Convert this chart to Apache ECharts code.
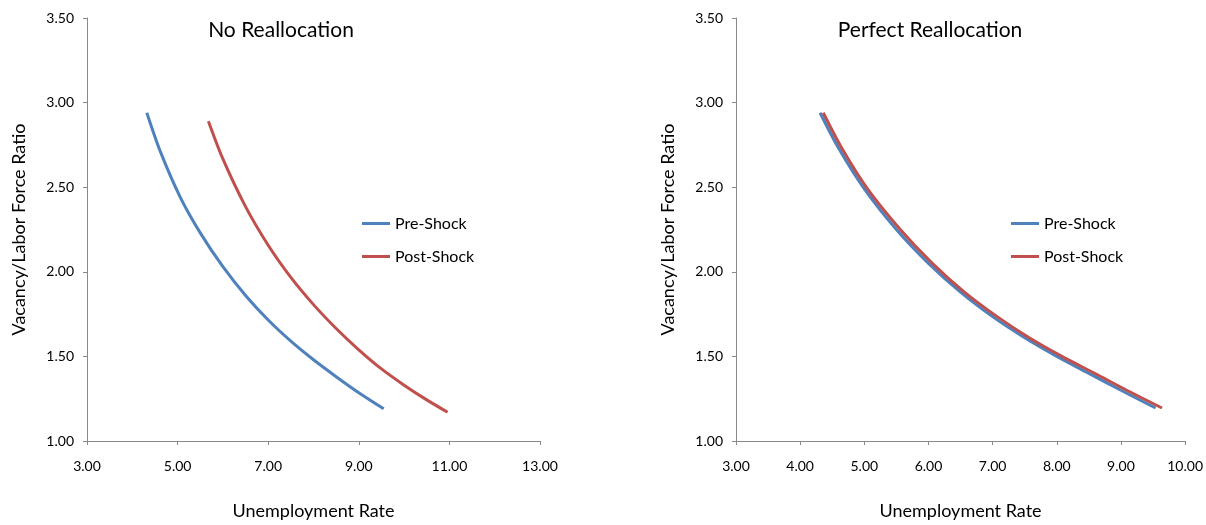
<!DOCTYPE html>
<html>
<head>
<meta charset="utf-8">
<script src="https://cdn.jsdelivr.net/npm/echarts@6/dist/echarts.min.js"></script>
<style>
html,body{margin:0;padding:0;background:#fff;}
#c{width:1206px;height:525px;}
</style>
</head>
<body>
<div id="c"></div>
<script>
// ---- Data ----
const seriesNames = ['Pre-Shock', 'Post-Shock'];
const chartTitles = ['No Reallocation', 'Perfect Reallocation'];
const xAxisName = 'Unemployment Rate';
const yAxisName = 'Vacancy/Labor Force Ratio';

// Left panel: No Reallocation
const noReallocPreU = [4.32, 4.62, 5.06, 5.50, 6.00, 6.50, 7.00, 7.50, 8.00, 8.50, 9.00, 9.55];
const noReallocPreV = [2.94, 2.71, 2.44, 2.23, 2.03, 1.86, 1.715, 1.59, 1.48, 1.38, 1.285, 1.19];
const noReallocPostU = [5.68, 6.00, 6.50, 7.00, 7.50, 8.00, 8.50, 9.00, 9.50, 10.00, 10.50, 10.96];
const noReallocPostV = [2.89, 2.667, 2.385, 2.157, 1.967, 1.806, 1.665, 1.539, 1.426, 1.33, 1.243, 1.17];

// Right panel: Perfect Reallocation
const perfectPreU = [4.31, 4.60, 5.00, 5.50, 6.00, 6.50, 7.00, 7.50, 8.00, 8.50, 9.00, 9.54];
const perfectPreV = [2.94, 2.73, 2.49, 2.25, 2.05, 1.88, 1.735, 1.61, 1.50, 1.40, 1.30, 1.195];
const perfectPostU = [4.36, 4.65, 5.05, 5.56, 6.06, 6.56, 7.07, 7.57, 8.08, 8.59, 9.09, 9.64];
const perfectPostV = [2.94, 2.73, 2.49, 2.25, 2.05, 1.88, 1.735, 1.61, 1.50, 1.40, 1.30, 1.195];

// Axis ranges / ticks
const yMin = 1.0, yMax = 3.5, yStep = 0.5;
const leftXMin = 3, leftXMax = 13, leftXStep = 2;
const rightXMin = 3, rightXMax = 10, rightXStep = 1;

// ---- Build ----
const pairs = (u, v) => u.map((x, i) => [x, v[i]]);
const BLUE = '#4F81BD', RED = '#C0504D';
const FONT = 'Lato, "Open Sans", sans-serif';
const AXIS_COLOR = '#8a8a8a';
const fmt = v => v.toFixed(2);

function xAxis(gi, min, max, step) {
  return {
    type: 'value', gridIndex: gi, min, max, interval: step,
    name: xAxisName, nameLocation: 'middle', nameGap: 61,
    nameTextStyle: { fontFamily: FONT, fontSize: 18, color: '#000' },
    axisLine: { show: true, lineStyle: { color: AXIS_COLOR, width: 1 } },
    axisTick: { show: true, inside: false, length: 4, lineStyle: { color: AXIS_COLOR } },
    axisLabel: { formatter: fmt, fontFamily: FONT, fontSize: 14, color: '#000', margin: 18 },
    splitLine: { show: false }
  };
}
function yAxis(gi) {
  return {
    type: 'value', gridIndex: gi, min: yMin, max: yMax, interval: yStep,
    name: yAxisName, nameLocation: 'middle', nameGap: 59, nameRotate: 90,
    nameTextStyle: { fontFamily: FONT, fontSize: 18, color: '#000' },
    axisLine: { show: true, lineStyle: { color: AXIS_COLOR, width: 1 } },
    axisTick: { show: true, inside: false, length: 4, lineStyle: { color: AXIS_COLOR } },
    axisLabel: { formatter: fmt, fontFamily: FONT, fontSize: 14, color: '#000', margin: 13 },
    splitLine: { show: false }
  };
}
function line(name, data, color, gi) {
  return {
    type: 'line', name, data, xAxisIndex: gi, yAxisIndex: gi,
    smooth: 0.3, showSymbol: false, symbol: 'none',
    lineStyle: { color, width: 3 }, itemStyle: { color },
    z: name === 'Post-Shock' ? 3 : 2
  };
}
function legend(left) {
  return {
    orient: 'vertical', left, top: 214, padding: 0, itemWidth: 28, itemHeight: 3, itemGap: 14,
    icon: 'rect',
    textStyle: { fontFamily: FONT, fontSize: 16, color: '#000', lineHeight: 19 },
    data: seriesNames
  };
}

const option = {
  backgroundColor: '#fff',
  animation: false,
  title: [
    { text: chartTitles[0], left: 276, top: 15, textAlign: 'center',
      textStyle: { fontFamily: FONT, fontSize: 21, fontWeight: 'normal', color: '#000' } },
    { text: chartTitles[1], left: 925, top: 15, textAlign: 'center',
      textStyle: { fontFamily: FONT, fontSize: 21, fontWeight: 'normal', color: '#000' } }
  ],
  legend: [legend(362), legend(1011)],
  grid: [
    { left: 87, top: 18, width: 453, height: 435 },
    { left: 736, top: 18, width: 450, height: 435 }
  ],
  xAxis: [xAxis(0, leftXMin, leftXMax, leftXStep), xAxis(1, rightXMin, rightXMax, rightXStep)],
  yAxis: [yAxis(0), yAxis(1)],
  series: [
    line(seriesNames[0], pairs(noReallocPreU, noReallocPreV), BLUE, 0),
    line(seriesNames[1], pairs(noReallocPostU, noReallocPostV), RED, 0),
    line(seriesNames[0], pairs(perfectPreU, perfectPreV), BLUE, 1),
    line(seriesNames[1], pairs(perfectPostU, perfectPostV), RED, 1)
  ]
};

const chart = echarts.init(document.getElementById('c'), null, { renderer: 'canvas' });
chart.setOption(option);
</script>
</body>
</html>
